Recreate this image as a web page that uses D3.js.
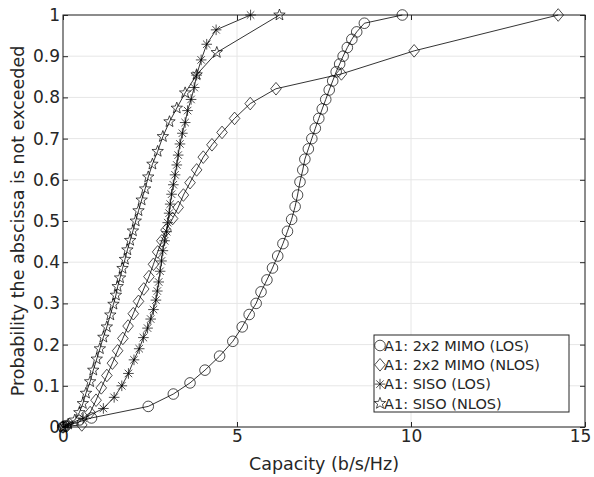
<!DOCTYPE html>
<html>
<head>
<meta charset="utf-8">
<script src="https://cdn.jsdelivr.net/npm/d3@7"></script>
<style>
body { margin: 0; background: #fff; }
text { font-family: "DejaVu Sans", sans-serif; fill: #262626; }
</style>
</head>
<body>
<script>
var width = 594, height = 477;
var margin = {top: 15, right: 9, bottom: 50, left: 63};
var innerW = width - margin.left - margin.right,
    innerH = height - margin.top - margin.bottom;

// capacity (b/s/Hz) and cumulative probability
var mimoLosC = [0, 0.06, 0.82, 2.45, 3.17, 3.65, 4.08, 4.5, 4.88, 5.15, 5.35, 5.55, 5.69, 5.86, 6.02, 6.17, 6.32, 6.45, 6.57, 6.67, 6.74, 6.81, 6.89, 6.95, 7.05, 7.15, 7.25, 7.35, 7.45, 7.55, 7.65, 7.75, 7.85, 7.95, 8.05, 8.17, 8.3, 8.44, 8.66, 9.75];
var mimoLosP = [0, 0.002, 0.022, 0.05, 0.08, 0.107, 0.138, 0.172, 0.208, 0.243, 0.273, 0.30, 0.328, 0.357, 0.386, 0.415, 0.445, 0.475, 0.504, 0.535, 0.563, 0.595, 0.624, 0.650, 0.675, 0.70, 0.725, 0.749, 0.772, 0.795, 0.818, 0.84, 0.862, 0.881, 0.90, 0.921, 0.941, 0.959, 0.98, 1.0];

var mimoNlosC = [0, 0.1, 0.54, 0.78, 0.95, 1.1, 1.26, 1.42, 1.57, 1.72, 1.87, 2.02, 2.17, 2.32, 2.47, 2.6, 2.72, 2.84, 2.96, 3.15, 3.31, 3.46, 3.65, 3.84, 4.03, 4.28, 4.57, 4.93, 5.38, 6.12, 8.0, 10.09, 14.23];
var mimoNlosP = [0, 0.002, 0.005, 0.035, 0.065, 0.095, 0.125, 0.155, 0.185, 0.215, 0.245, 0.275, 0.305, 0.335, 0.365, 0.395, 0.425, 0.452, 0.478, 0.506, 0.533, 0.563, 0.593, 0.624, 0.655, 0.685, 0.715, 0.749, 0.785, 0.821, 0.857, 0.913, 1.0];

var sisoLosC = [0, 0.15, 0.58, 1.16, 1.47, 1.69, 1.88, 2.04, 2.19, 2.31, 2.43, 2.52, 2.6, 2.67, 2.71, 2.75, 2.79, 2.83, 2.87, 2.92, 2.98, 3.01, 3.05, 3.08, 3.12, 3.17, 3.22, 3.27, 3.31, 3.36, 3.43, 3.51, 3.58, 3.68, 3.77, 3.84, 3.97, 4.13, 4.40, 5.39];
var sisoLosP = [0, 0.007, 0.021, 0.045, 0.072, 0.1, 0.13, 0.163, 0.19, 0.217, 0.24, 0.262, 0.285, 0.308, 0.33, 0.352, 0.378, 0.403, 0.428, 0.452, 0.474, 0.496, 0.519, 0.541, 0.565, 0.588, 0.612, 0.636, 0.660, 0.687, 0.713, 0.739, 0.768, 0.795, 0.824, 0.854, 0.891, 0.929, 0.964, 1.0];

var sisoNlosC = [0, 0.15, 0.34, 0.47, 0.57, 0.66, 0.78, 0.87, 0.97, 1.06, 1.16, 1.26, 1.36, 1.45, 1.52, 1.57, 1.64, 1.71, 1.78, 1.85, 1.93, 2.01, 2.09, 2.17, 2.26, 2.36, 2.45, 2.57, 2.72, 2.87, 3.06, 3.27, 3.51, 3.84, 4.42, 6.22];
var sisoNlosP = [0, 0.007, 0.017, 0.035, 0.057, 0.082, 0.11, 0.138, 0.165, 0.19, 0.218, 0.243, 0.272, 0.298, 0.32, 0.341, 0.362, 0.385, 0.407, 0.43, 0.453, 0.476, 0.50, 0.525, 0.551, 0.578, 0.607, 0.638, 0.669, 0.705, 0.741, 0.774, 0.811, 0.855, 0.909, 1.0];

var seriesNames = ["A1: 2x2 MIMO (LOS)", "A1: 2x2 MIMO (NLOS)", "A1: SISO (LOS)", "A1: SISO (NLOS)"];
var seriesMarkers = ["circle", "diamond", "asterisk", "star"];
var xTicks = [0, 5, 10, 15];
var yTicks = [0, 0.1, 0.2, 0.3, 0.4, 0.5, 0.6, 0.7, 0.8, 0.9, 1];

var series = [
    {name: seriesNames[0], marker: seriesMarkers[0], c: mimoLosC, p: mimoLosP},
    {name: seriesNames[1], marker: seriesMarkers[1], c: mimoNlosC, p: mimoNlosP},
    {name: seriesNames[2], marker: seriesMarkers[2], c: sisoLosC, p: sisoLosP},
    {name: seriesNames[3], marker: seriesMarkers[3], c: sisoNlosC, p: sisoNlosP}
].map(function (s) {
    s.values = s.c.map(function (c, i) { return {c: c, p: s.p[i]}; });
    return s;
});

var svg = d3.select("body").append("svg")
        .attr("width", width)
        .attr("height", height);

var x = d3.scaleLinear().domain([0, 15]).range([0, innerW]),
    y = d3.scaleLinear().domain([0, 1]).range([innerH, 0]);

var g = svg.append("g")
        .attr("transform", "translate(" + margin.left + "," + margin.top + ")");

// grid
g.append("g").selectAll("line").data(xTicks).enter().append("line")
        .attr("x1", x).attr("x2", x).attr("y1", 0).attr("y2", innerH)
        .attr("stroke", "#e6e6e6").attr("stroke-width", 1);
g.append("g").selectAll("line").data(yTicks).enter().append("line")
        .attr("y1", y).attr("y2", y).attr("x1", 0).attr("x2", innerW)
        .attr("stroke", "#e6e6e6").attr("stroke-width", 1);

// axes (ticks pointing in, on all four sides)
function styleAxis(sel) {
    sel.select(".domain").remove();
    sel.selectAll(".tick line").attr("stroke", "#262626");
    sel.selectAll("text").style("font-size", "17px").attr("fill", "#262626");
}
g.append("g").attr("transform", "translate(0," + innerH + ")")
        .call(d3.axisBottom(x).tickValues(xTicks).tickSizeInner(-5).tickPadding(3).tickFormat(d3.format("d")))
        .call(styleAxis)
        .selectAll(".tick text")
        .attr("dx", function (d) { return d === 15 ? -5 : 0; });
g.append("g")
        .call(d3.axisLeft(y).tickValues(yTicks).tickSizeInner(-5).tickPadding(3).tickFormat(function (d) { return d === 0 || d === 1 ? d : d3.format(".1f")(d); }))
        .call(styleAxis);
g.append("g")
        .call(d3.axisTop(x).tickValues(xTicks).tickSizeInner(-5).tickFormat(""))
        .call(styleAxis);
g.append("g").attr("transform", "translate(" + innerW + ",0)")
        .call(d3.axisRight(y).tickValues(yTicks).tickSizeInner(-5).tickFormat(""))
        .call(styleAxis);

g.append("rect")
        .attr("width", innerW).attr("height", innerH)
        .attr("fill", "none").attr("stroke", "#262626").attr("stroke-width", 1);

// marker shapes
function markerPath(type) {
    var p = d3.path(), i, a, r;
    if (type === "circle") {
        p.moveTo(5.3, 0);
        p.arc(0, 0, 5.3, 0, 2 * Math.PI);
    } else if (type === "diamond") {
        p.moveTo(0, -6.3); p.lineTo(5.3, 0); p.lineTo(0, 6.3); p.lineTo(-5.3, 0); p.closePath();
    } else if (type === "asterisk") {
        for (i = 0; i < 4; i++) {
            a = i * Math.PI / 4;
            r = 5.3;
            p.moveTo(r * Math.cos(a), r * Math.sin(a));
            p.lineTo(-r * Math.cos(a), -r * Math.sin(a));
        }
    } else {
        for (i = 0; i < 10; i++) {
            a = -Math.PI / 2 + i * Math.PI / 5;
            r = i % 2 === 0 ? 6 : 2.5;
            if (i === 0) p.moveTo(r * Math.cos(a), r * Math.sin(a));
            else p.lineTo(r * Math.cos(a), r * Math.sin(a));
        }
        p.closePath();
    }
    return p.toString();
}

var line = d3.line()
        .x(function (d) { return x(d.c); })
        .y(function (d) { return y(d.p); });

var lines = g.selectAll(".series")
        .data(series)
        .enter().append("g")
        .classed("series", true);

lines.append("path")
        .attr("d", function (d) { return line(d.values); })
        .attr("fill", "none")
        .attr("stroke", "#000")
        .attr("stroke-width", 0.8);

lines.each(function (s) {
    d3.select(this).selectAll(".mk")
            .data(s.values)
            .enter().append("path")
            .classed("mk", true)
            .attr("transform", function (d) { return "translate(" + x(d.c) + "," + y(d.p) + ")"; })
            .attr("d", markerPath(s.marker))
            .attr("fill", "none")
            .attr("stroke", "#000")
            .attr("stroke-width", 0.7);
});

// axis titles
svg.append("text")
        .attr("x", margin.left + innerW / 2)
        .attr("y", 470)
        .attr("text-anchor", "middle")
        .style("font-size", "17.5px")
        .text("Capacity (b/s/Hz)");
svg.append("text")
        .attr("transform", "translate(23.5," + (margin.top + innerH / 2) + ") rotate(-90)")
        .attr("text-anchor", "middle")
        .style("font-size", "17.5px")
        .text("Probability the abscissa is not exceeded");

// legend
var legend = svg.append("g").attr("transform", "translate(374,335)");
legend.append("rect")
        .attr("width", 195).attr("height", 77)
        .attr("fill", "#fff").attr("stroke", "#262626").attr("stroke-width", 1);
var items = legend.selectAll(".item")
        .data(series)
        .enter().append("g")
        .attr("transform", function (d, i) { return "translate(6," + (10.5 + i * 19.3) + ")"; });
items.append("path")
        .attr("d", function (d) { return markerPath(d.marker); })
        .attr("fill", "none").attr("stroke", "#000").attr("stroke-width", 0.7);
items.append("text")
        .attr("x", 4)
        .attr("dy", "0.36em")
        .style("font-size", "14.5px")
        .attr("fill", "#000")
        .text(function (d) { return d.name; });
</script>
</body>
</html>
